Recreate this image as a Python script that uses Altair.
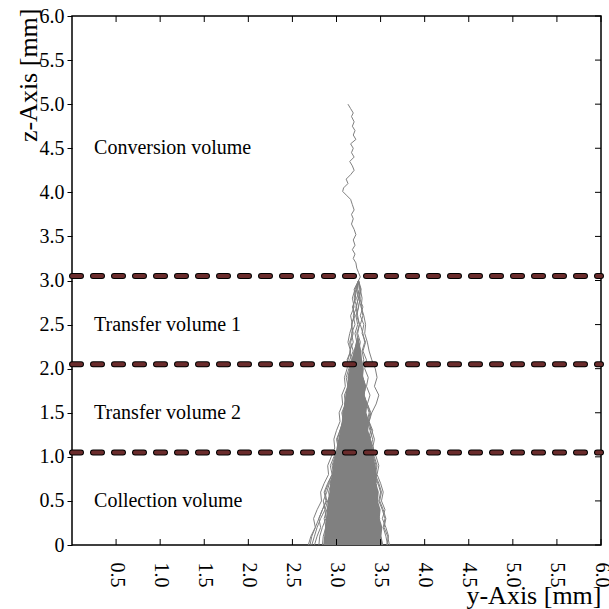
import altair as alt
import pandas as pd

FONT = "Liberation Serif"

# main electron trace from the conversion volume (y [mm], z [mm])
MAIN_Y = [3.13, 3.16, 3.19, 3.17, 3.20, 3.18, 3.21, 3.19, 3.22, 3.16, 3.19, 3.17, 3.20, 3.15,
          3.18, 3.20, 3.16, 3.11, 3.13, 3.08, 3.07, 3.12, 3.16, 3.18, 3.20, 3.17, 3.19, 3.17,
          3.20, 3.22, 3.19, 3.21, 3.18, 3.21, 3.19, 3.22, 3.23, 3.25, 3.27, 3.25]
MAIN_Z = [5.00, 4.95, 4.90, 4.86, 4.80, 4.75, 4.70, 4.65, 4.60, 4.55, 4.50, 4.45, 4.40, 4.35,
          4.30, 4.25, 4.20, 4.15, 4.10, 4.05, 4.01, 3.96, 3.92, 3.86, 3.80, 3.75, 3.70, 3.64,
          3.58, 3.52, 3.46, 3.40, 3.35, 3.30, 3.25, 3.20, 3.14, 3.09, 3.04, 3.00]

# z levels at which the drift traces below 3 mm are read
Z_LEVELS = [3.0, 2.9, 2.8, 2.7, 2.6, 2.5, 2.4, 2.3, 2.2, 2.1, 2.0, 1.9, 1.8, 1.7, 1.6, 1.5,
            1.4, 1.3, 1.2, 1.1, 1.0, 0.9, 0.8, 0.7, 0.6, 0.5, 0.4, 0.3, 0.2, 0.1, 0.0]

TRACE_1 = [3.25, 3.22, 3.20, 3.23, 3.19, 3.21, 3.17, 3.19, 3.15, 3.17, 3.14, 3.11, 3.13, 3.09, 3.10, 3.06,
           3.08, 3.04, 3.01, 3.03, 2.99, 2.96, 2.98, 2.94, 2.91, 2.93, 2.89, 2.86, 2.88, 2.85, 2.84]
TRACE_2 = [3.25, 3.28, 3.26, 3.30, 3.27, 3.31, 3.29, 3.33, 3.30, 3.34, 3.32, 3.36, 3.34, 3.38, 3.35, 3.39,
           3.37, 3.41, 3.38, 3.42, 3.40, 3.44, 3.42, 3.46, 3.43, 3.47, 3.45, 3.49, 3.47, 3.50, 3.52]
TRACE_3 = [3.25, 3.27, 3.29, 3.28, 3.31, 3.33, 3.32, 3.35, 3.37, 3.40, 3.44, 3.46, 3.43, 3.48, 3.45, 3.40,
           3.37, 3.39, 3.36, 3.40, 3.42, 3.45, 3.43, 3.47, 3.50, 3.48, 3.52, 3.55, 3.53, 3.56, 3.58]
TRACE_4 = [3.25, 3.23, 3.21, 3.19, 3.20, 3.17, 3.18, 3.15, 3.16, 3.13, 3.12, 3.09, 3.10, 3.06, 3.07, 3.03,
           3.04, 3.00, 2.97, 2.98, 2.94, 2.90, 2.91, 2.86, 2.82, 2.83, 2.78, 2.74, 2.76, 2.71, 2.68]
TRACE_5 = [3.25, 3.24, 3.27, 3.25, 3.22, 3.24, 3.21, 3.23, 3.20, 3.18, 3.20, 3.17, 3.14, 3.15, 3.11, 3.08,
           3.09, 3.05, 3.06, 3.02, 2.99, 3.00, 2.96, 2.93, 2.94, 2.90, 2.87, 2.88, 2.84, 2.81, 2.80]
TRACE_6 = [3.25, 3.21, 3.18, 3.20, 3.16, 3.18, 3.15, 3.13, 3.16, 3.12, 3.15, 3.13, 3.16, 3.12, 3.14, 3.11,
           3.13, 3.10, 3.07, 3.09, 3.06, 3.03, 3.05, 3.01, 2.98, 3.00, 2.96, 2.93, 2.95, 2.92, 2.90]
TRACE_7 = [3.25, 3.27, 3.25, 3.28, 3.30, 3.27, 3.30, 3.32, 3.29, 3.31, 3.28, 3.30, 3.33, 3.31, 3.34, 3.37,
           3.35, 3.38, 3.41, 3.39, 3.43, 3.46, 3.44, 3.48, 3.51, 3.49, 3.53, 3.56, 3.54, 3.58, 3.60]
TRACE_8 = [3.25, 3.26, 3.23, 3.25, 3.23, 3.26, 3.24, 3.27, 3.25, 3.22, 3.24, 3.21, 3.23, 3.20, 3.22, 3.19,
           3.21, 3.18, 3.20, 3.17, 3.19, 3.16, 3.18, 3.15, 3.17, 3.14, 3.16, 3.13, 3.15, 3.12, 3.14]
TRACE_9 = [3.25, 3.23, 3.25, 3.22, 3.24, 3.26, 3.23, 3.25, 3.27, 3.24, 3.26, 3.29, 3.27, 3.30, 3.28, 3.31,
           3.29, 3.32, 3.30, 3.33, 3.31, 3.34, 3.32, 3.35, 3.33, 3.36, 3.34, 3.37, 3.35, 3.38, 3.36]
TRACE_10 = [3.25, 3.20, 3.22, 3.18, 3.21, 3.17, 3.19, 3.16, 3.19, 3.15, 3.17, 3.14, 3.16, 3.12, 3.09, 3.11,
            3.07, 3.04, 3.06, 3.02, 2.98, 2.95, 2.97, 2.92, 2.89, 2.85, 2.87, 2.82, 2.78, 2.75, 2.72]
# traces that only show below 2 mm (values from z = 2.0 down to 0.0)
TRACE_11 = [3.22, 3.18, 3.14, 3.16, 3.11, 3.07, 3.09, 3.04, 3.00, 3.02, 2.97, 2.93, 2.95, 2.90, 2.86, 2.88,
            2.84, 2.80, 2.82, 2.78, 2.75]
TRACE_12 = [3.26, 3.30, 3.33, 3.31, 3.35, 3.38, 3.36, 3.40, 3.43, 3.41, 3.45, 3.48, 3.46, 3.50, 3.53, 3.51,
            3.55, 3.52, 3.56, 3.59, 3.57]
TRACE_13 = [3.20, 3.17, 3.19, 3.15, 3.12, 3.14, 3.10, 3.07, 3.09, 3.05, 3.02, 2.98, 2.95, 2.91, 2.87, 2.89,
            2.84, 2.80, 2.76, 2.72, 2.70]
TRACE_14 = [3.24, 3.21, 3.18, 3.20, 3.16, 3.13, 3.15, 3.11, 3.08, 3.10, 3.06, 3.03, 3.05, 3.00, 2.97, 2.99,
            2.95, 2.92, 2.94, 2.90, 2.88]

# dense core of overlapping traces: left / right edge per z level
CORE_Z = [2.35, 2.3, 2.2, 2.1, 2.0, 1.9, 1.8, 1.7, 1.6, 1.5, 1.4, 1.3, 1.2, 1.1, 1.0, 0.9, 0.8, 0.7,
          0.6, 0.5, 0.4, 0.3, 0.2, 0.1, 0.0]
CORE_LEFT = [3.23, 3.22, 3.20, 3.17, 3.15, 3.13, 3.12, 3.10, 3.09, 3.07, 3.06, 3.04, 3.02, 3.00, 2.98,
             2.96, 2.95, 2.93, 2.92, 2.90, 2.89, 2.88, 2.87, 2.86, 2.85]
CORE_RIGHT = [3.25, 3.26, 3.28, 3.29, 3.31, 3.30, 3.33, 3.32, 3.35, 3.34, 3.37, 3.36, 3.39, 3.41, 3.42,
              3.44, 3.46, 3.45, 3.48, 3.47, 3.50, 3.49, 3.52, 3.51, 3.53]

BOUNDARIES = [1.05, 2.05, 3.05]
REGION_LABELS = ["Conversion volume", "Transfer volume 1", "Transfer volume 2", "Collection volume"]
REGION_LABEL_Z = [4.5, 2.5, 1.5, 0.5]
LABEL_X = 0.25

X_TICKS = [0.5, 1.0, 1.5, 2.0, 2.5, 3.0, 3.5, 4.0, 4.5, 5.0, 5.5, 6.0]
Y_TICKS = [0.0, 0.5, 1.0, 1.5, 2.0, 2.5, 3.0, 3.5, 4.0, 4.5, 5.0, 5.5, 6.0]

# ---------- build tables ----------
rows = []
for i, (yv, zv) in enumerate(zip(MAIN_Y, MAIN_Z)):
    rows.append({"trace": "main", "step": i, "y": yv, "z": zv})
full = [TRACE_1, TRACE_2, TRACE_3, TRACE_4, TRACE_5, TRACE_6, TRACE_7, TRACE_8, TRACE_9, TRACE_10]
for k, tr in enumerate(full):
    for i, yv in enumerate(tr):
        rows.append({"trace": f"f{k}", "step": i, "y": yv, "z": Z_LEVELS[i]})
low = [TRACE_11, TRACE_12, TRACE_13, TRACE_14]
for k, tr in enumerate(low):
    for i, yv in enumerate(tr):
        rows.append({"trace": f"l{k}", "step": i, "y": yv, "z": Z_LEVELS[10 + i]})
traces = pd.DataFrame(rows)

core = pd.DataFrame({"z": CORE_Z, "left": CORE_LEFT, "right": CORE_RIGHT})
bounds = pd.DataFrame({"z": BOUNDARIES, "x0": [0.0] * 3, "x1": [6.0] * 3})
labels = pd.DataFrame({"text": REGION_LABELS, "z": REGION_LABEL_Z, "x": [LABEL_X] * 4})
xt = pd.DataFrame({"v": X_TICKS})
yt = pd.DataFrame({"v": Y_TICKS})

XS = alt.Scale(domain=[0, 6], nice=False, zero=False)
YS = alt.Scale(domain=[0, 6], nice=False, zero=False)

x_axis = alt.Axis(
    title="y-Axis [mm]", values=X_TICKS, format=".1f", labelAngle=90, ticks=False,
    labelPadding=17, labelFontSize=20,
    titleX=529, titleY=50, titleAlign="right", titleBaseline="middle",
)
y_axis = alt.Axis(
    title="z-Axis [mm]", values=Y_TICKS,
    labelExpr="datum.value == 0 ? '0' : format(datum.value, '.1f')",
    tickSize=5, tickColor="black", labelPadding=3, labelFontSize=20,
    titleX=-36, titleY=-8, titleAngle=-90, titleAlign="right",
    titleBaseline="alphabetic",
)

core_layer = alt.Chart(core).mark_area(orient="horizontal", color="#808080", opacity=1).encode(
    y=alt.Y("z:Q", scale=YS, axis=y_axis),
    x=alt.X("left:Q", scale=XS, axis=x_axis),
    x2="right:Q",
)

trace_layer = alt.Chart(traces).mark_line(color="#808080", strokeWidth=1).encode(
    x=alt.X("y:Q", scale=XS),
    y=alt.Y("z:Q", scale=YS),
    detail="trace:N",
    order="step:Q",
)

bound_outline = alt.Chart(bounds).mark_rule(
    color="black", strokeWidth=6, strokeDash=[9, 12], strokeCap="round"
).encode(x=alt.X("x0:Q", scale=XS), x2="x1:Q", y=alt.Y("z:Q", scale=YS))
bound_fill = alt.Chart(bounds).mark_rule(
    color="#6a2c2c", strokeWidth=4, strokeDash=[9, 12], strokeCap="round"
).encode(x=alt.X("x0:Q", scale=XS), x2="x1:Q", y=alt.Y("z:Q", scale=YS))

text_layer = alt.Chart(labels).mark_text(
    align="left", baseline="middle", font=FONT, fontSize=20, color="black"
).encode(x=alt.X("x:Q", scale=XS), y=alt.Y("z:Q", scale=YS), text="text:N")

# inward ticks on bottom, top and right frame
bottom_ticks = alt.Chart(xt).mark_rule(color="black", strokeWidth=1).encode(
    x=alt.X("v:Q", scale=XS), y=alt.value(529), y2=alt.value(523))
top_ticks = alt.Chart(xt).mark_rule(color="black", strokeWidth=1).encode(
    x=alt.X("v:Q", scale=XS), y=alt.value(0), y2=alt.value(6))
right_ticks = alt.Chart(yt).mark_rule(color="black", strokeWidth=1).encode(
    y=alt.Y("v:Q", scale=YS), x=alt.value(529), x2=alt.value(523))

chart = alt.layer(
    core_layer, trace_layer, bound_outline, bound_fill, text_layer,
    bottom_ticks, top_ticks, right_ticks,
).properties(
    width=529, height=529,
    autosize=alt.AutoSizeParams(type="none"),
    padding={"left": 72, "top": 16, "right": 8, "bottom": 64},
    background="white",
).configure_view(
    stroke="black", strokeWidth=1.5
).configure_axis(
    labelFont=FONT, titleFont=FONT, labelColor="black", titleColor="black",
    titleFontSize=26, titleFontWeight="normal", domain=False, grid=False,
).configure_text(font=FONT)

chart.save("out.html", embed_options={"renderer": "svg", "actions": False})
